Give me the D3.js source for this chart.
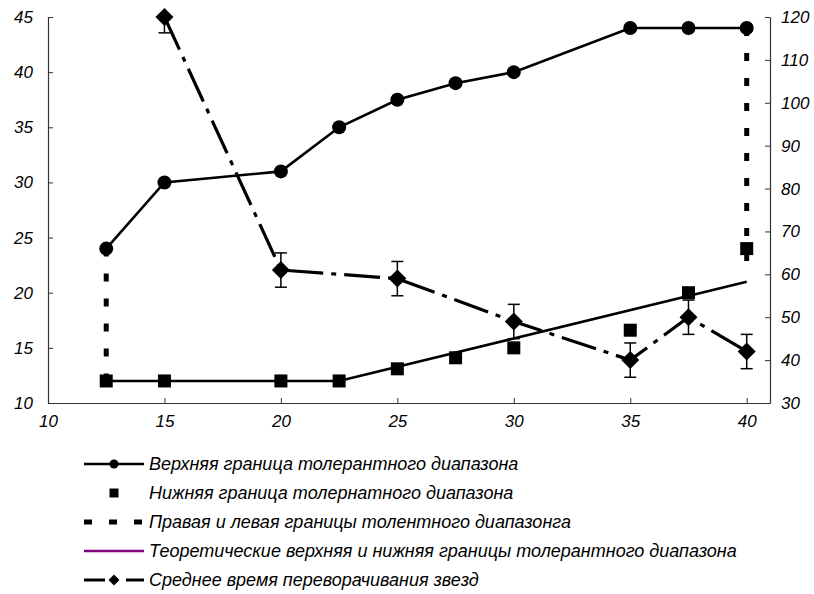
<!DOCTYPE html>
<html>
<head>
<meta charset="utf-8">
<script src="https://cdn.jsdelivr.net/npm/d3@7/dist/d3.min.js"></script>
<style>
  html, body { margin: 0; padding: 0; background: #fff; }
  svg text { font-family: "Liberation Sans", Arial, sans-serif; font-style: italic; }
</style>
</head>
<body>
<svg id="chart" width="814" height="594"></svg>
<script>
// ---- data ----
const upperX = [12.5, 15, 20, 22.5, 25, 27.5, 30, 35, 37.5, 40];
const upperY = [24, 30, 31, 35, 37.5, 39, 40, 44, 44, 44];
const lowerX = [12.5, 15, 20, 22.5, 25, 27.5, 30, 35, 37.5, 40];
const lowerY = [12, 12, 12, 12, 13.1, 14.1, 15, 16.6, 20, 24];
const leftBoundX = [12.5, 12.5];
const leftBoundY = [24, 12];
const rightBoundX = [40, 40];
const rightBoundY = [44, 22];
const theoryX = [12.5, 22.5, 40];
const theoryY = [12, 12, 21];
const starX = [15, 20, 25, 30, 35, 37.5, 40];
const starY = [120, 61, 59, 49, 40, 50, 42];
const starErr = [3.7, 4, 4, 4, 4, 4, 4];
const xTicks = [10, 15, 20, 25, 30, 35, 40];
const yLeftTicks = [10, 15, 20, 25, 30, 35, 40, 45];
const yRightTicks = [30, 40, 50, 60, 70, 80, 90, 100, 110, 120];
const legendLabels = [
  "Верхняя граница толерантного диапазона",
  "Нижняя граница толернатного диапазона",
  "Правая и левая границы толентного диапазонга",
  "Теоретические верхняя и нижняя границы толерантного диапазона",
  "Среднее время переворачивания звезд"
];

// ---- layout ----
const svg = d3.select("#chart");
const L = 48, R = 770, T = 17, B = 403;
const x = d3.scaleLinear().domain([10, 41]).range([L, R]);
const yL = d3.scaleLinear().domain([10, 45]).range([B, T]);
const yR = d3.scaleLinear().domain([30, 120]).range([B, T]);
const fontSize = 17;
const legendFont = 18;
const dashDot = "36 8 5 8";
const dotted = "8 17";

// axes
const axL = svg.append("g").attr("transform", `translate(${L},0)`)
  .call(d3.axisLeft(yL).tickValues(yLeftTicks).tickSizeInner(-5).tickSizeOuter(0).tickPadding(15));
const axR = svg.append("g").attr("transform", `translate(${R},0)`)
  .call(d3.axisRight(yR).tickValues(yRightTicks).tickSizeInner(-5).tickSizeOuter(0).tickPadding(11));
const axB = svg.append("g").attr("transform", `translate(0,${B})`)
  .call(d3.axisBottom(x).tickValues(xTicks).tickSizeInner(-5).tickSizeOuter(0).tickPadding(12));
[axL, axR, axB].forEach(g => {
  g.selectAll("path.domain").attr("stroke", "#333").attr("stroke-width", 1.2);
  g.selectAll(".tick line").attr("stroke", "#333");
  g.selectAll("text").attr("font-size", fontSize).attr("fill", "#000")
    .style("font-family", "'Liberation Sans', Arial, sans-serif").style("font-style", "italic");
});

const lineL = d3.line().x(d => x(d[0])).y(d => yL(d[1]));
const lineR = d3.line().x(d => x(d[0])).y(d => yR(d[1]));
const zip = (a, b) => a.map((v, i) => [v, b[i]]);

// upper boundary line
svg.append("path").datum(zip(upperX, upperY)).attr("d", lineL)
  .attr("fill", "none").attr("stroke", "#000").attr("stroke-width", 2.6);
// theoretical line
svg.append("path").datum(zip(theoryX, theoryY)).attr("d", lineL)
  .attr("fill", "none").attr("stroke", "#000").attr("stroke-width", 2.6);
// dotted boundaries
[[leftBoundX, leftBoundY], [rightBoundX, rightBoundY]].forEach(([xs, ys]) => {
  svg.append("path").datum(zip(xs, ys)).attr("d", lineL)
    .attr("fill", "none").attr("stroke", "#000").attr("stroke-width", 5)
    .attr("stroke-dasharray", dotted);
});
// upper markers
svg.append("g").selectAll("circle").data(zip(upperX, upperY)).join("circle")
  .attr("cx", d => x(d[0])).attr("cy", d => yL(d[1])).attr("r", 7).attr("fill", "#000");
// lower markers
svg.append("g").selectAll("rect").data(zip(lowerX, lowerY)).join("rect")
  .attr("x", d => x(d[0]) - 6.5).attr("y", d => yL(d[1]) - 6.5)
  .attr("width", 13).attr("height", 13).attr("fill", "#000");

// star series
const starData = starX.map((v, i) => ({ x: v, y: starY[i], e: starErr[i] }));
svg.append("path").datum(starData.map(d => [d.x, d.y])).attr("d", lineR)
  .attr("fill", "none").attr("stroke", "#000").attr("stroke-width", 3.2)
  .attr("stroke-dasharray", dashDot);
const eb = svg.append("g").attr("stroke", "#000").attr("stroke-width", 1.5);
starData.forEach(d => {
  const top = Math.min(d.y + d.e, 120), bot = Math.max(d.y - d.e, 30);
  const cx = x(d.x);
  eb.append("line").attr("x1", cx).attr("x2", cx).attr("y1", yR(top)).attr("y2", yR(bot));
  if (d.y + d.e <= 120) eb.append("line").attr("x1", cx - 6).attr("x2", cx + 6).attr("y1", yR(top)).attr("y2", yR(top));
  eb.append("line").attr("x1", cx - 6).attr("x2", cx + 6).attr("y1", yR(bot)).attr("y2", yR(bot));
});
const dia = (cx, cy, h) => `M${cx},${cy - h}L${cx + h},${cy}L${cx},${cy + h}L${cx - h},${cy}Z`;
svg.append("g").selectAll("path").data(starData).join("path")
  .attr("d", d => dia(x(d.x), yR(d.y), 9)).attr("fill", "#000");

// legend
const lg = svg.append("g");
const rowY = [464, 493, 522, 551, 580];
const sx0 = 84, sx1 = 144, sm = 114;
// row 1
lg.append("line").attr("x1", sx0).attr("x2", sx1).attr("y1", rowY[0]).attr("y2", rowY[0])
  .attr("stroke", "#000").attr("stroke-width", 2.4);
lg.append("circle").attr("cx", sm).attr("cy", rowY[0]).attr("r", 4.5).attr("fill", "#000");
// row 2
lg.append("rect").attr("x", sm - 4.5).attr("y", rowY[1] - 4.5).attr("width", 9).attr("height", 9).attr("fill", "#000");
// row 3
lg.append("line").attr("x1", sx0).attr("x2", sx1).attr("y1", rowY[2]).attr("y2", rowY[2])
  .attr("stroke", "#000").attr("stroke-width", 5).attr("stroke-dasharray", dotted);
// row 4
lg.append("line").attr("x1", sx0).attr("x2", sx1).attr("y1", rowY[3]).attr("y2", rowY[3])
  .attr("stroke", "#800080").attr("stroke-width", 2.4);
// row 5
lg.append("line").attr("x1", sx0).attr("x2", sx1).attr("y1", rowY[4]).attr("y2", rowY[4])
  .attr("stroke", "#000").attr("stroke-width", 3).attr("stroke-dasharray", dashDot)
  .attr("stroke-dashoffset", 15);
lg.append("path").attr("d", dia(sm, rowY[4], 5.5)).attr("fill", "#000");
lg.selectAll("text").data(legendLabels).join("text")
  .attr("x", 149).attr("y", (d, i) => rowY[i]).attr("dy", "0.35em")
  .attr("font-size", legendFont).text(d => d);
</script>
</body>
</html>
